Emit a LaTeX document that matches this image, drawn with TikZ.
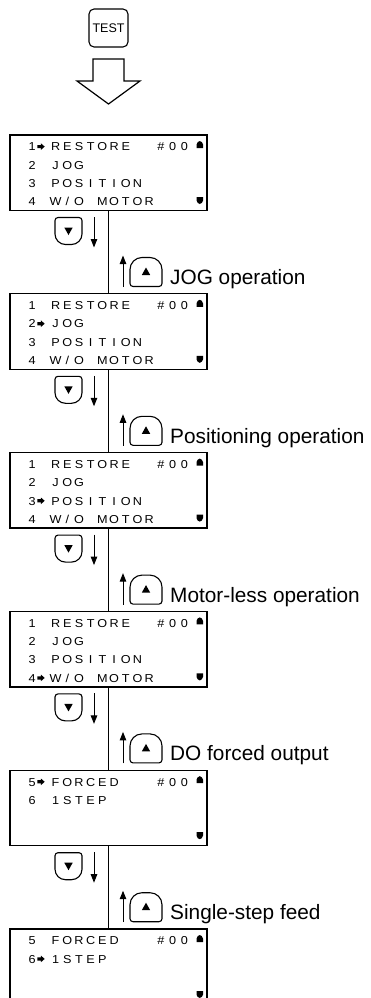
\documentclass[tikz,border=0pt]{standalone}
\usepackage{fontspec}
\setmainfont{Liberation Sans}
\newfontfamily\lcdfont[FakeStretch=1.1]{Liberation Sans}
\usetikzlibrary{arrows.meta}

\def\lcdstop{lcdstop}
\newcommand\lcdcell[1]{\makebox[11.7pt]{#1}}
\def\lcdsub#1{\ifx#1*\else#1\fi}
\def\lcdloop#1{\ifx#1\lcdstop\else\lcdcell{\lcdsub#1}\expandafter\lcdloop\fi}
\newcommand\lcdrow[1]{\lcdloop#1\lcdstop}
% heavy cursor arrow of the display
\newcommand\ra{\rlap{\kern-6.6pt\begin{tikzpicture}[x=1pt,y=1pt,baseline=0pt]
  \fill (0,2.6) -- (3.6,2.6) -- (3.6,0.9) -- (7.4,4.2) -- (3.6,7.5) -- (3.6,5.8) -- (0,5.8) -- cycle;
\end{tikzpicture}}}

\tikzset{
  lcdframe/.style={draw, line width=1.3pt, minimum width=197pt, minimum height=75.5pt, inner sep=0pt},
  lcdtext/.style={anchor=base west, inner sep=0pt, font=\lcdfont\fontsize{11.5}{11.5}\selectfont},
  conn/.style={line width=0.9pt},
  keyline/.style={line width=1.1pt},
  smallarrow/.style={line width=1pt, -{Triangle[width=6.5pt,length=8.5pt]}},
  lbl/.style={anchor=base west, inner sep=0pt, font=\fontsize{20.8}{20.8}\selectfont},
  testkey/.style={draw, line width=1.1pt, rounded corners=5pt, minimum width=39pt, minimum height=38pt, inner sep=0pt, font=\fontsize{12.5}{12.5}\selectfont},
}

% display frame with scroll marks: name, top
\newcommand\lcdframebox[2]{%
  \node[lcdframe] (#1) at (108.5,{#2+37.75}) {};
  \fill (196.5,{#2+13}) -- (196.5,{#2+9.5}) .. controls (196.5,{#2+7.8}) and (198.6,{#2+6}) .. (199.75,{#2+6})
        .. controls (200.9,{#2+6}) and (203,{#2+7.8}) .. (203,{#2+9.5}) -- (203,{#2+13}) -- cycle;
  \fill (196.5,{#2+62}) -- (196.5,{#2+65.5}) .. controls (196.5,{#2+67.2}) and (198.6,{#2+69}) .. (199.75,{#2+69})
        .. controls (200.9,{#2+69}) and (203,{#2+67.2}) .. (203,{#2+65.5}) -- (203,{#2+62}) -- cycle;
}

\begin{document}
\begin{tikzpicture}[x=1pt,y=-1pt]
\useasboundingbox (0,0) rectangle (370,998);
\clip (0,0) rectangle (370,998);

% TEST key
\node[testkey] (test) at (108.5,28) {TEST};
% hollow arrow
\draw[line width=1.2pt, line join=miter] (93,59) -- (124,59) -- (124,81) -- (140,81) -- (108.5,104) -- (77,81) -- (93,81) -- cycle;

% displays
\def\Ta{135}
\pgfmathsetmacro\Tb{135+158.8}
\pgfmathsetmacro\Tc{135+2*158.8}
\pgfmathsetmacro\Td{135+3*158.8}
\pgfmathsetmacro\Te{135+4*158.8}
\pgfmathsetmacro\Tf{135+5*158.8}

\lcdframebox{d1}{\Ta}
\node[lcdtext] (d1r1) at (26.15,{\Ta+15.8}) {\lcdrow{1\ra RESTORE**\#00}};
\node[lcdtext] (d1r2) at (26.15,{\Ta+34.1}) {\lcdrow{2*JOG}};
\node[lcdtext] (d1r3) at (26.15,{\Ta+52.4}) {\lcdrow{3*POSITION}};
\node[lcdtext] (d1r4) at (26.15,{\Ta+70.7}) {\lcdrow{4*W/O*MOTOR}};

\lcdframebox{d2}{\Tb}
\node[lcdtext] (d2r1) at (26.15,{\Tb+15.8}) {\lcdrow{1*RESTORE**\#00}};
\node[lcdtext] (d2r2) at (26.15,{\Tb+34.1}) {\lcdrow{2\ra JOG}};
\node[lcdtext] (d2r3) at (26.15,{\Tb+52.4}) {\lcdrow{3*POSITION}};
\node[lcdtext] (d2r4) at (26.15,{\Tb+70.7}) {\lcdrow{4*W/O*MOTOR}};

\lcdframebox{d3}{\Tc}
\node[lcdtext] (d3r1) at (26.15,{\Tc+15.8}) {\lcdrow{1*RESTORE**\#00}};
\node[lcdtext] (d3r2) at (26.15,{\Tc+34.1}) {\lcdrow{2*JOG}};
\node[lcdtext] (d3r3) at (26.15,{\Tc+52.4}) {\lcdrow{3\ra POSITION}};
\node[lcdtext] (d3r4) at (26.15,{\Tc+70.7}) {\lcdrow{4*W/O*MOTOR}};

\lcdframebox{d4}{\Td}
\node[lcdtext] (d4r1) at (26.15,{\Td+15.8}) {\lcdrow{1*RESTORE**\#00}};
\node[lcdtext] (d4r2) at (26.15,{\Td+34.1}) {\lcdrow{2*JOG}};
\node[lcdtext] (d4r3) at (26.15,{\Td+52.4}) {\lcdrow{3*POSITION}};
\node[lcdtext] (d4r4) at (26.15,{\Td+70.7}) {\lcdrow{4\ra W/O*MOTOR}};

\lcdframebox{d5}{\Te}
\node[lcdtext] (d5r1) at (26.15,{\Te+15.8}) {\lcdrow{5\ra FORCED***\#00}};
\node[lcdtext] (d5r2) at (26.15,{\Te+34.1}) {\lcdrow{6*1STEP}};

\lcdframebox{d6}{\Tf}
\node[lcdtext] (d6r1) at (26.15,{\Tf+15.8}) {\lcdrow{5*FORCED***\#00}};
\node[lcdtext] (d6r2) at (26.15,{\Tf+34.1}) {\lcdrow{6\ra 1STEP}};

% connectors between displays
\draw[conn] (d1.south) -- (d2.north);
\draw[conn] (d2.south) -- (d3.north);
\draw[conn] (d3.south) -- (d4.north);
\draw[conn] (d4.south) -- (d5.north);
\draw[conn] (d5.south) -- (d6.north);

% keys and labels per step
\foreach \k/\txt in {0/JOG operation,1/Positioning operation,2/Motor-less operation,3/DO forced output,4/Single-step feed}{
  \pgfmathsetmacro\B{210.5+158.8*\k}
  % down key
  \begin{scope}[shift={(68.5,{\B+20.5})}]
    \draw[keyline] (-13.5,3) -- (-13.5,-10.5) arc[start angle=180,end angle=270,radius=3] -- (10.5,-13.5)
      arc[start angle=270,end angle=360,radius=3] -- (13.5,3) arc[start angle=0,end angle=90,radius=10.5]
      -- (-3,13.5) arc[start angle=90,end angle=180,radius=10.5] -- cycle;
    \fill (-4.2,-3.5) -- (4.2,-3.5) -- (0,4) -- cycle;
  \end{scope}
  \coordinate (dn\k a) at (94,{\B+6.5});
  \coordinate (dn\k b) at (94,{\B+37});
  \draw[smallarrow] (dn\k a) -- (dn\k b);
  % up key
  \begin{scope}[shift={(146,{\B+61.5})}]
    \draw[keyline] (-16,11.5) -- (-16,-2.5) arc[start angle=180,end angle=270,radius=12] -- (4,-14.5)
      arc[start angle=270,end angle=360,radius=12] -- (16,11.5) arc[start angle=0,end angle=90,radius=3]
      -- (-13,14.5) arc[start angle=90,end angle=180,radius=3] -- cycle;
    \fill (-4.2,3) -- (4.2,3) -- (0,-4.5) -- cycle;
  \end{scope}
  \coordinate (up\k a) at (123,{\B+76.5});
  \coordinate (up\k b) at (123,{\B+45});
  \draw[smallarrow] (up\k a) -- (up\k b);
  \node[lbl] (lbl\k) at (170,{\B+74}) {\txt};
}
\end{tikzpicture}
\end{document}
